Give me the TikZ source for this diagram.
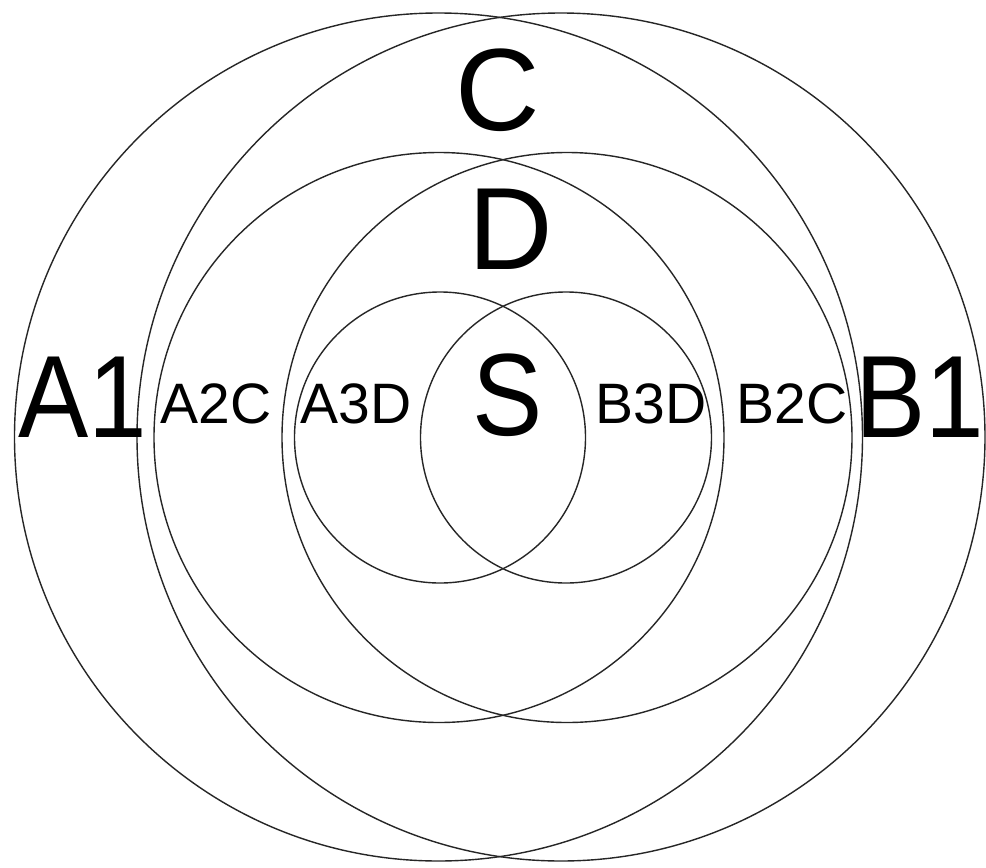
\documentclass[tikz,border=0pt]{standalone}
\usepackage{fontspec}
\setmainfont{Liberation Sans}
\newcommand{\squeezed}[1]{\scalebox{0.9}[1]{#1}}
\begin{document}
\begin{tikzpicture}[x=1pt,y=-1pt,
  ring/.style={circle,draw=black!85,line width=1.4pt,inner sep=0pt,minimum size=#1},
  biglbl/.style={anchor=base,inner sep=0pt,font=\fontsize{117}{117}\selectfont},
  smalllbl/.style={anchor=base,inner sep=0pt,font=\fontsize{57}{57}\selectfont}]
\fill[white] (0,0) rectangle (986,868);
\useasboundingbox (0,0) rectangle (986,868);
% large pair
\node[ring=848pt] (LA) at (438.5,437) {};
\node[ring=848pt] (LB) at (561,437) {};
% medium pair
\node[ring=570pt] (MA) at (439,437.5) {};
\node[ring=570pt] (MB) at (567,437.5) {};
% small pair
\node[ring=291pt] (SA) at (440,437.5) {};
\node[ring=291pt] (SB) at (566,437.5) {};
% labels
\node[biglbl] (C) at (498,130) {C};
\node[biglbl] (D) at (511,269) {D};
\node[biglbl] (S) at (508,435) {\squeezed{S}};
\node[biglbl] (A1) at (83,437) {\squeezed{A1}};
\node[biglbl] (B1) at (920,437) {\squeezed{B1}};
\node[smalllbl] (A2C) at (216,423) {A2C};
\node[smalllbl] (B2C) at (792,423) {B2C};
\node[smalllbl] (A3D) at (356,423) {A3D};
\node[smalllbl] (B3D) at (651,423) {B3D};
\end{tikzpicture}
\end{document}
